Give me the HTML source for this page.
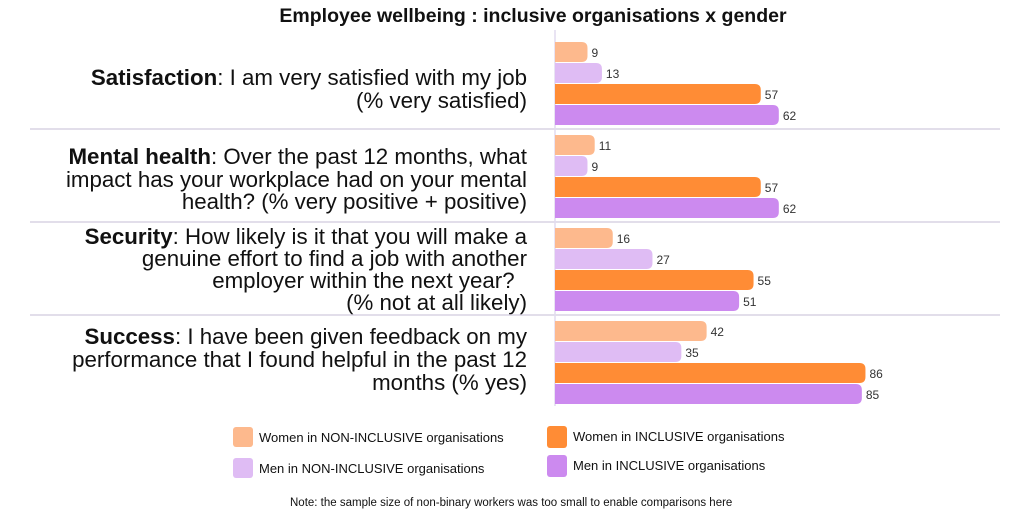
<!DOCTYPE html>
<html><head><meta charset="utf-8"><style>
body{margin:0;width:1024px;height:512px;background:#fff;overflow:hidden;font-family:"Liberation Sans",sans-serif;}
text{white-space:pre;}
</style></head><body>
<svg width="1024" height="512">
<text x="533" y="22" text-anchor="middle" font-size="19.5" font-weight="bold" fill="#111">Employee wellbeing : inclusive organisations x gender</text>
<g id="labels" font-size="22.3" fill="#111" text-anchor="end">
<text x="527" y="85"><tspan font-weight="bold">Satisfaction</tspan>: I am very satisfied with my job</text>
<text x="527" y="108">(% very satisfied)</text>
<text x="527" y="164"><tspan font-weight="bold">Mental health</tspan>: Over the past 12 months, what</text>
<text x="527" y="187">impact has your workplace had on your mental</text>
<text x="527" y="209">health? (% very positive + positive)</text>
<text x="527" y="244"><tspan font-weight="bold">Security</tspan>: How likely is it that you will make a</text>
<text x="527" y="266">genuine effort to find a job with another</text>
<text x="527" y="288">employer within the next year?  </text>
<text x="527" y="310">(% not at all likely)</text>
<text x="527" y="344"><tspan font-weight="bold">Success</tspan>: I have been given feedback on my</text>
<text x="527" y="367">performance that I found helpful in the past 12</text>
<text x="527" y="390">months (% yes)</text>
</g>
<g id="grid"></g>
<g id="bars"></g>
<g id="legend" font-size="13" fill="#111">
<rect x="233" y="427" width="20" height="20" rx="3" fill="#fdb98d"/>
<text x="259" y="442">Women in NON-INCLUSIVE organisations</text>
<rect x="233" y="458" width="20" height="20" rx="3" fill="#dfbcf4"/>
<text x="259" y="473">Men in NON-INCLUSIVE organisations</text>
<rect x="547" y="426" width="20" height="22" rx="3" fill="#ff8c35"/>
<text x="573" y="441">Women in INCLUSIVE organisations</text>
<rect x="547" y="455" width="20" height="22" rx="3" fill="#cc8aef"/>
<text x="573" y="470">Men in INCLUSIVE organisations</text>
<text x="290" y="506" font-size="11.5">Note: the sample size of non-binary workers was too small to enable comparisons here</text>
</g>
</svg>
<script>
const categories = ["Satisfaction","Mental health","Security","Success"];
const womenNonInclusive = [9, 11, 16, 42];
const menNonInclusive = [13, 9, 27, 35];
const womenInclusive = [57, 57, 55, 86];
const menInclusive = [62, 62, 51, 85];
const seriesNames = ["women-non-inclusive","men-non-inclusive","women-inclusive","men-inclusive"];
const seriesColors = ["#fdb98d","#dfbcf4","#ff8c35","#cc8aef"];

const NS = "http://www.w3.org/2000/svg";
const x0 = 555, scale = 3.61;
const xScale = v => x0 + v * scale;
const groupY = i => 42 + i * 93;
const barH = 20, barPitch = 21;
const all = [womenNonInclusive, menNonInclusive, womenInclusive, menInclusive];
const bars = document.getElementById('bars');
const grid = document.getElementById('grid');

for (let i = 1; i < categories.length; i++) {
  const l = document.createElementNS(NS, 'line');
  const y = groupY(i) - 6;
  l.setAttribute('x1', 30); l.setAttribute('x2', 1000);
  l.setAttribute('y1', y); l.setAttribute('y2', y);
  l.setAttribute('stroke', '#d8d3e3'); l.setAttribute('stroke-width', 1.5);
  
  
  grid.appendChild(l);
}
const ax = document.createElementNS(NS, 'line');
ax.setAttribute('x1', x0); ax.setAttribute('x2', x0);
ax.setAttribute('y1', 30); ax.setAttribute('y2', 406);
ax.setAttribute('stroke', '#e2dcef'); ax.setAttribute('stroke-width', 1.5);


grid.appendChild(ax);

categories.forEach((c, i) => {
  all.forEach((s, j) => {
    const y = groupY(i) + j * barPitch;
    const w = xScale(s[i]) - x0;
    const p = document.createElementNS(NS, 'path');
    const r = 6;
    p.setAttribute('d', `M${x0},${y} H${x0 + w - r} Q${x0 + w},${y} ${x0 + w},${y + r} V${y + barH - r} Q${x0 + w},${y + barH} ${x0 + w - r},${y + barH} H${x0} Z`);
    p.setAttribute('fill', seriesColors[j]);
    
    
    bars.appendChild(p);
    const t = document.createElementNS(NS, 'text');
    t.setAttribute('x', x0 + w + 4);
    t.setAttribute('y', y + 15);
    t.setAttribute('font-size', '12');
    t.setAttribute('fill', '#333');
    t.textContent = s[i];
    
    
    bars.appendChild(t);
  });
});
</script>
</body></html>
